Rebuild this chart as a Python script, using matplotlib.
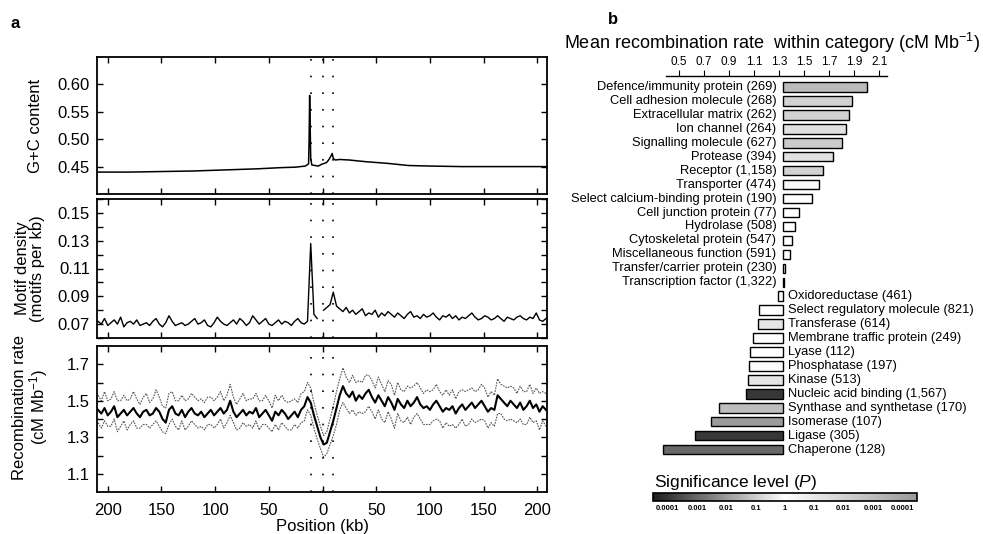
import numpy as np
import matplotlib.pyplot as plt
from matplotlib.colors import LinearSegmentedColormap, Normalize
from matplotlib.cm import ScalarMappable

plt.rcParams['font.family'] = ['Liberation Sans', 'DejaVu Sans']
plt.rcParams['mathtext.fontset'] = 'custom'
plt.rcParams['mathtext.rm'] = 'Liberation Sans'
plt.rcParams['mathtext.it'] = 'Liberation Sans:italic'

# ---- panel a data ----
# G+C content (position kb, value)
gc_pos = [-210, -180, -150, -120, -90, -60, -40, -25, -16, -13, -12.5, -12, -11.5, -11, -10, -7, -4, -2,
          0, 2, 4, 6, 8, 9, 10, 12, 16, 25, 40, 60, 80, 100, 130, 160, 190, 209]
gc_val = [0.440, 0.440, 0.441, 0.442, 0.444, 0.446, 0.448, 0.449, 0.451, 0.455, 0.50, 0.58, 0.52, 0.465,
          0.453, 0.452, 0.451, 0.453, 0.455, 0.456, 0.458, 0.463, 0.470, 0.474, 0.465, 0.462, 0.463,
          0.462, 0.459, 0.456, 0.452, 0.451, 0.450, 0.450, 0.450, 0.450]

# motif density and recombination rate, every 3 kb from -209 to 208
pos = np.arange(-209, 210, 3)
motif = [0.072, 0.070, 0.074, 0.069, 0.071, 0.073, 0.070, 0.075, 0.068, 0.071,
         0.072, 0.070, 0.073, 0.069, 0.070, 0.071, 0.069, 0.072, 0.074, 0.070,
         0.068, 0.071, 0.076, 0.072, 0.069, 0.070, 0.071, 0.069, 0.070, 0.072,
         0.074, 0.070, 0.071, 0.073, 0.069, 0.068, 0.071, 0.075, 0.072, 0.070,
         0.069, 0.071, 0.073, 0.070, 0.074, 0.072, 0.069, 0.071, 0.076, 0.073,
         0.070, 0.072, 0.074, 0.070, 0.069, 0.071, 0.073, 0.070, 0.072, 0.071,
         0.069, 0.072, 0.074, 0.071, 0.070, 0.072,
         0.128, 0.077, 0.074, np.nan, 0.080, 0.082, 0.084, 0.093, 0.083,
         0.081, 0.079, 0.082, 0.078, 0.080, 0.077, 0.079, 0.081, 0.076, 0.078,
         0.077, 0.080, 0.075, 0.078, 0.076, 0.079, 0.077, 0.075, 0.078, 0.076,
         0.074, 0.077, 0.079, 0.075, 0.076, 0.074, 0.077, 0.075, 0.076, 0.078,
         0.075, 0.073, 0.076, 0.075, 0.077, 0.074, 0.076, 0.073, 0.075, 0.074,
         0.076, 0.078, 0.075, 0.073, 0.074, 0.076, 0.075, 0.073, 0.074, 0.076,
         0.074, 0.072, 0.075, 0.074, 0.073, 0.075, 0.076, 0.074, 0.073, 0.075,
         0.074, 0.078, 0.073, 0.072, 0.074]

rec_mean = [1.45, 1.43, 1.46, 1.42, 1.44, 1.47, 1.41, 1.43, 1.45, 1.42,
            1.44, 1.46, 1.43, 1.41, 1.44, 1.45, 1.42, 1.43, 1.46, 1.44,
            1.40, 1.38, 1.45, 1.47, 1.43, 1.42, 1.45, 1.41, 1.44, 1.46,
            1.43, 1.42, 1.44, 1.41, 1.43, 1.45, 1.42, 1.44, 1.46, 1.43,
            1.45, 1.50, 1.44, 1.41, 1.43, 1.45, 1.42, 1.44, 1.43, 1.46,
            1.41, 1.43, 1.45, 1.42, 1.39, 1.44, 1.42, 1.45, 1.43, 1.40,
            1.42, 1.44, 1.41, 1.45, 1.47, 1.52,
            1.49, 1.42, 1.36, 1.30, 1.26, 1.27, 1.33, 1.39, 1.46,
            1.53, 1.58, 1.54, 1.52, 1.55, 1.50, 1.53, 1.51, 1.54, 1.56,
            1.52, 1.49, 1.53, 1.50, 1.47, 1.52, 1.49, 1.45, 1.51, 1.48,
            1.46, 1.50, 1.47, 1.49, 1.52, 1.48, 1.46, 1.47, 1.45, 1.48,
            1.50, 1.47, 1.44, 1.46, 1.45, 1.47, 1.43, 1.46, 1.48, 1.45,
            1.47, 1.49, 1.46, 1.48, 1.50, 1.47, 1.44, 1.46, 1.45, 1.53,
            1.51, 1.49, 1.47, 1.50, 1.48, 1.46, 1.49, 1.45, 1.47, 1.50,
            1.46, 1.48, 1.44, 1.47, 1.45]
# distance of the upper / lower confidence lines from the mean
rec_hi = [0.08, 0.07, 0.09, 0.08, 0.07, 0.08, 0.09, 0.07, 0.08, 0.08,
          0.07, 0.09, 0.08, 0.07, 0.08, 0.09, 0.07, 0.08, 0.10, 0.08,
          0.07, 0.08, 0.09, 0.08, 0.07, 0.08, 0.08, 0.09, 0.07, 0.08,
          0.09, 0.08, 0.07, 0.08, 0.09, 0.07, 0.08, 0.08, 0.09, 0.07,
          0.08, 0.09, 0.08, 0.07, 0.08, 0.09, 0.08, 0.07, 0.08, 0.08,
          0.09, 0.07, 0.08, 0.08, 0.07, 0.09, 0.08, 0.08, 0.07, 0.09,
          0.08, 0.07, 0.08, 0.09, 0.08, 0.08,
          0.08, 0.07, 0.06, 0.06, 0.05, 0.06, 0.07, 0.08, 0.09,
          0.09, 0.10, 0.09, 0.08, 0.09, 0.10, 0.08, 0.09, 0.10, 0.08,
          0.09, 0.08, 0.10, 0.09, 0.08, 0.09, 0.10, 0.08, 0.09, 0.08,
          0.09, 0.08, 0.10, 0.09, 0.08, 0.09, 0.08, 0.09, 0.10, 0.08,
          0.09, 0.08, 0.09, 0.10, 0.08, 0.09, 0.08, 0.09, 0.08, 0.10,
          0.09, 0.08, 0.09, 0.08, 0.09, 0.10, 0.08, 0.09, 0.08, 0.09,
          0.08, 0.09, 0.10, 0.08, 0.09, 0.08, 0.09, 0.10, 0.08, 0.09,
          0.08, 0.09, 0.10, 0.08, 0.09]
rec_lo = [0.07, 0.08, 0.07, 0.06, 0.08, 0.07, 0.08, 0.07, 0.06, 0.08,
          0.07, 0.07, 0.08, 0.06, 0.07, 0.08, 0.07, 0.06, 0.07, 0.08,
          0.07, 0.06, 0.08, 0.07, 0.07, 0.08, 0.06, 0.07, 0.08, 0.07,
          0.06, 0.07, 0.08, 0.07, 0.06, 0.08, 0.07, 0.07, 0.06, 0.08,
          0.07, 0.08, 0.06, 0.07, 0.08, 0.07, 0.06, 0.07, 0.08, 0.07,
          0.07, 0.06, 0.08, 0.07, 0.06, 0.07, 0.08, 0.07, 0.07, 0.06,
          0.08, 0.07, 0.06, 0.07, 0.08, 0.07,
          0.07, 0.07, 0.07, 0.06, 0.07, 0.06, 0.07, 0.08, 0.09,
          0.08, 0.09, 0.08, 0.09, 0.10, 0.08, 0.09, 0.08, 0.10, 0.09,
          0.08, 0.09, 0.08, 0.10, 0.09, 0.08, 0.09, 0.10, 0.08, 0.09,
          0.08, 0.09, 0.10, 0.08, 0.09, 0.08, 0.09, 0.10, 0.08, 0.09,
          0.10, 0.08, 0.09, 0.08, 0.09, 0.10, 0.08, 0.09, 0.08, 0.09,
          0.10, 0.09, 0.08, 0.09, 0.10, 0.08, 0.09, 0.08, 0.09, 0.10,
          0.08, 0.09, 0.08, 0.10, 0.09, 0.08, 0.09, 0.08, 0.10, 0.09,
          0.08, 0.09, 0.10, 0.08, 0.09]

boundaries = [-11, 0, 10]

# ---- panel b data ----
categories = ["Defence/immunity protein (269)", "Cell adhesion molecule (268)", "Extracellular matrix (262)",
              "Ion channel (264)", "Signalling molecule (627)", "Protease (394)", "Receptor (1,158)",
              "Transporter (474)", "Select calcium-binding protein (190)", "Cell junction protein (77)",
              "Hydrolase (508)", "Cytoskeletal protein (547)", "Miscellaneous function (591)",
              "Transfer/carrier protein (230)", "Transcription factor (1,322)",
              "Oxidoreductase (461)", "Select regulatory molecule (821)", "Transferase (614)",
              "Membrane traffic protein (249)", "Lyase (112)", "Phosphatase (197)", "Kinase (513)",
              "Nucleic acid binding (1,567)", "Synthase and synthetase (170)", "Isomerase (107)",
              "Ligase (305)", "Chaperone (128)"]
cat_rate = [2.00, 1.88, 1.86, 1.83, 1.80, 1.73, 1.65, 1.62, 1.56, 1.46, 1.43, 1.40, 1.39, 1.345, 1.337,
            1.29, 1.14, 1.13, 1.09, 1.07, 1.06, 1.05, 1.04, 0.82, 0.76, 0.63, 0.38]
cat_p = [0.001, 0.01, 0.01, 0.05, 0.005, 0.05, 0.01, 0.5, 1, 1, 1, 1, 1, 1, 1,
         1, 1, 0.3, 1, 1, 0.8, 0.3, 0.0001, 0.05, 0.01, 0.0001, 0.001]
overall_rate = 1.33
rate_ticks = [0.5, 0.7, 0.9, 1.1, 1.3, 1.5, 1.7, 1.9, 2.1]
sig_ticklabels = ['0.0001', '0.001', '0.01', '0.1', '1', '0.1', '0.01', '0.001', '0.0001']

fig = plt.figure(figsize=(9.83, 5.34), dpi=100)
W, H = 983.0, 534.0


def px_axes(x0, y0, x1, y1):
    return fig.add_axes([x0 / W, 1 - y1 / H, (x1 - x0) / W, (y1 - y0) / H])


ax1 = px_axes(97, 57, 547, 194)
ax2 = px_axes(97, 199, 547, 338)
ax3 = px_axes(97, 346, 547, 492)

ax1.plot(gc_pos, gc_val, color='black', lw=1.1)
ax2.plot(pos, motif, color='black', lw=1.0)
mean = np.array(rec_mean)
ax3.plot(pos, mean + np.array(rec_hi), color='#555555', lw=0.8, ls=(0, (1.5, 1)))
ax3.plot(pos, mean - np.array(rec_lo), color='#555555', lw=0.8, ls=(0, (1.5, 1)))
ax3.plot(pos, mean, color='black', lw=1.5)

for ax, ylim, major, minor in [(ax1, (0.40, 0.65), [0.45, 0.50, 0.55, 0.60], [0.45, 0.50, 0.55, 0.60]),
                               (ax2, (0.06, 0.16), [0.07, 0.09, 0.11, 0.13, 0.15],
                                [0.06 + 0.01 * i for i in range(11)]),
                               (ax3, (1.0, 1.8), [1.1, 1.3, 1.5, 1.7], [1.1 + 0.1 * i for i in range(7)])]:
    ax.set_xlim(-210, 209)
    ax.set_ylim(*ylim)
    ax.set_yticks(major)
    ax.set_yticks(minor, minor=True)
    ax.set_xticks([-200, -150, -100, -50, 0, 50, 100, 150, 200])
    ax.tick_params(which='both', direction='in', top=True, right=True, length=4, width=1,
                   labelsize=12, pad=5)
    ax.tick_params(axis='x', pad=8)
    for s in ax.spines.values():
        s.set_linewidth(1.3)
    for b in boundaries:
        ax.axvline(b, color='black', lw=1.2, ls=(0, (1, 9)))

ax1.set_yticklabels(['0.45', '0.50', '0.55', '0.60'])
ax2.set_yticklabels(['0.07', '0.09', '0.11', '0.13', '0.15'])
ax3.set_yticklabels(['1.1', '1.3', '1.5', '1.7'])
ax1.set_xticklabels([])
ax2.set_xticklabels([])
ax3.set_xticklabels(['200', '150', '100', '50', '0', '50', '100', '150', '200'])
ax3.set_xlabel('Position (kb)', fontsize=12, labelpad=1)

ax1.text(-0.136, 0.5, 'G+C content', transform=ax1.transAxes, rotation=90,
         ha='center', va='center', fontsize=12)
ax2.text(-0.148, 0.5, 'Motif density\n(motifs per kb)', transform=ax2.transAxes, rotation=90,
         ha='center', va='center', fontsize=12, multialignment='center', linespacing=1.0)
ax3.text(-0.146, 0.58, 'Recombination rate\n(cM Mb$^{-1}$)', transform=ax3.transAxes, rotation=90,
         ha='center', va='center', fontsize=12, multialignment='center', linespacing=1.0)

fig.text(15 / W, 1 - 23 / H, 'a', fontsize=12, fontweight='bold', ha='center', va='center')
fig.text(613 / W, 1 - 20 / H, 'b', fontsize=12, fontweight='bold', ha='center', va='center')

# ---- panel b ----
cmap = LinearSegmentedColormap.from_list('sig', ['#1e1e1e', '#ffffff', '#9a9a9a'])
norm = Normalize(-4.5, 4.5)

rates = np.array(cat_rate)
side = np.where(rates >= overall_rate, 1.0, -1.0)
level = side * -np.log10(np.array(cat_p, dtype=float))
rows = np.arange(len(categories))

axb = px_axes(666, 76, 887, 458)
axb.barh(rows, np.abs(rates - overall_rate), left=np.minimum(rates, overall_rate), height=0.68,
         color=cmap(norm(level)), edgecolor='black', lw=1.0, clip_on=False)
axb.set_xlim(0.40, 2.16)
axb.set_ylim(26.6, -0.79)
for s in ['left', 'right', 'bottom']:
    axb.spines[s].set_visible(False)
axb.spines['top'].set_linewidth(1.0)
axb.xaxis.tick_top()
axb.set_xticks(rate_ticks)
axb.set_xticklabels([f'{t:.1f}' for t in rate_ticks])
axb.tick_params(axis='x', length=4, width=0.8, pad=1.5, labelsize=8.5)
axb.set_yticks([])
axb.patch.set_visible(False)

for r, name, rate in zip(rows, categories, rates):
    if rate >= overall_rate:
        axb.text(1.279, r, name, ha='right', va='center', fontsize=9.3)
    else:
        axb.text(1.372, r, name, ha='left', va='center', fontsize=9.3)

fig.text(772 / W, 1 - 43 / H, 'Mean recombination rate  within category (cM Mb$^{-1}$)',
         ha='center', va='center', fontsize=13)

fig.text(654 / W, 1 - 482 / H, 'Significance level ($P$)', ha='left', va='center', fontsize=12.5)
cax = px_axes(653, 493, 917, 501)
cb = fig.colorbar(ScalarMappable(norm=norm, cmap=cmap), cax=cax, orientation='horizontal')
cb.set_ticks([-4, -3, -2, -1, 0, 1, 2, 3, 4])
cb.set_ticklabels(sig_ticklabels)
cb.outline.set_linewidth(1.2)
cax.tick_params(length=0, labelsize=5.5, pad=3)
for t in cax.get_xticklabels():
    t.set_fontweight('bold')

fig.savefig('out.png', dpi=100)
